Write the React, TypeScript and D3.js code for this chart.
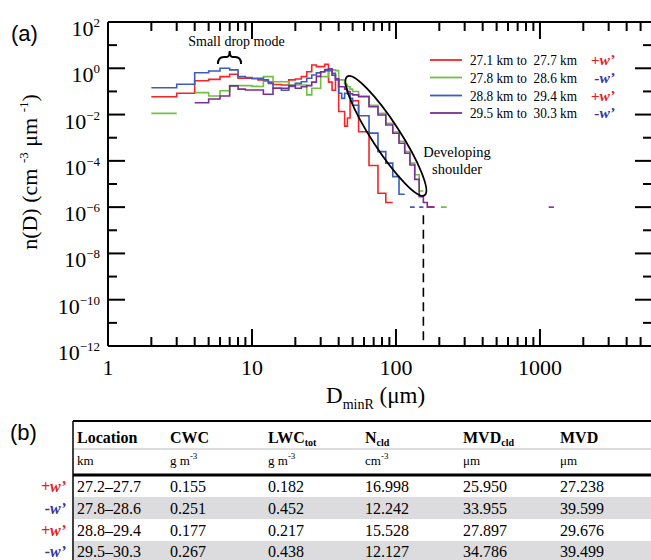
import React from 'react';
import * as d3 from 'd3';

// bin edges (um) of the merged CDP + 2DS size distribution
const binEdges = [2, 3, 4, 5, 6, 7, 8, 9, 10, 11, 12, 13, 14, 16, 18, 20, 22, 24, 26, 28, 30, 32, 34, 36, 38, 40, 42, 44, 46, 48, 50,
  55, 65, 75, 85, 95, 105, 115, 125, 135, 145, 155, 165, 175, 185, 195, 205, 215, 225];

// log10 n(D) per bin, null = no counts
const redLogN = [-1.23, -1.08, -0.54, -0.48, -0.36, -0.26, -0.43, -0.43, -0.45, -0.5, -0.55, -0.6,
  -0.7, -0.72, -0.5, -0.46, -0.36, -0.15, 0.14, 0.07, 0.07, 0.17, -0.6, -0.95, -0.45, -1.87, -1.87, -2.5, -2.15, -1.4,
  -1.4, -2.74, -4.2, -5.4, -5.8, null, null, null, null, null, null, null, -6, -6, null, null, null, null];
const greenLogN = [-1.95, null, -1.05, -1.2, -0.97, -0.75, -0.75, -0.75, -0.78, -0.79, -0.36, -0.36,
  -0.58, -0.58, -0.72, -0.72, -0.72, -1.15, -0.86, -0.86, -0.36, -0.36, -0.07, -0.07, -0.1, -0.5, -0.5, -0.7, -0.8, -0.9,
  -1.0, -1.2, -1.6, -1.95, -2.38, -2.75, -3.15, -3.6, -4.1, -4.6, -5.3, null, null, null, null, null, -6, -6];
const blueLogN = [-0.84, -0.69, -0.19, -0.12, 0.0, -0.07, -0.36, -0.4, -0.43, -0.43, -0.5, -0.65,
  -0.86, -0.95, -0.79, -0.65, -0.58, -0.43, -0.29, -0.2, -0.15, -0.1, -0.1, -0.22, -0.5, -1.08, -1.3, -1.08, -1.1, -1.3,
  -1.6, -2.05, -2.8, -3.6, -4.1, -4.68, -5.44, null, -6, null, -6, null, null, null, null, null, null, null];
const purpleLogN = [null, null, -1.49, -1.33, -1.2, -0.76, -0.9, -0.94, -0.94, -0.94, -1.12, -1.12,
  -0.86, -0.86, -0.75, -0.86, -0.8, -0.75, -0.6, -0.35, -0.15, -0.05, -0.02, -0.3, -0.45, -0.8, -0.8, -0.9, -1.0, -1.1,
  -1.15, -1.23, -1.66, -2.02, -2.45, -2.81, -3.24, -3.67, -4.18, -4.8, -5.55, -5.8, -6, -6, null, null, null, null];
const purpleTailBin = [1150, 1250];
const purpleTailLogN = -6;

const seriesLogN = [redLogN, greenLogN, blueLogN, purpleLogN];
const seriesColors = ['#f52525', '#72bf44', '#3c5cbf', '#7d2e91'];
const legendRanges = ['27.1 km to  27.7 km', '27.8 km to  28.6 km', '28.8 km to  29.4 km', '29.5 km to  30.3 km'];
const legendSigns = ['+w\u2019', '-w\u2019', '+w\u2019', '-w\u2019'];
const signColors = ['#e41e26', '#36379a', '#e41e26', '#36379a'];

const xTickLabels = [1, 10, 100, 1000];
const yTickExps = [2, 0, -2, -4, -6, -8, -10, -12];
const markerD = 155;

const tableLocation = ['27.2\u201327.7', '27.8\u201328.6', '28.8\u201329.4', '29.5\u201330.3'];
const tableCWC = ['0.155', '0.251', '0.177', '0.267'];
const tableLWC = ['0.182', '0.452', '0.217', '0.438'];
const tableNcld = ['16.998', '12.242', '15.528', '12.127'];
const tableMVDcld = ['25.950', '33.955', '27.897', '34.786'];
const tableMVD = ['27.238', '39.599', '29.676', '39.499'];

const serif = "'Liberation Serif', 'Times New Roman', serif";
const sans = "'Liberation Sans', Arial, sans-serif";

const App = () => {
  const W = 651;
  const H = 560;
  const pl = { left: 108, right: 652, top: 22, bottom: 346 };

  const x = d3.scaleLog().domain([1, 6000]).range([pl.left, pl.right]);
  const y = d3.scaleLog().domain([1e-12, 1e2]).range([pl.bottom, pl.top]);

  const line = d3
    .line<[number, number | null]>()
    .defined(d => d[1] !== null)
    .x(d => x(d[0]))
    .y(d => y(Math.pow(10, d[1] as number)));

  const stepPoints = (vals: (number | null)[]) => {
    const pts: [number, number | null][] = [];
    vals.forEach((v, i) => {
      pts.push([binEdges[i], v]);
      pts.push([binEdges[i + 1], v]);
    });
    return pts;
  };

  // minor / major ticks
  const xMajor = [1, 10, 100, 1000];
  const xMinor: number[] = [];
  for (let k = 0; k < 4; k++) for (let m = 2; m <= 9; m++) if (m * 10 ** k < 6000) xMinor.push(m * 10 ** k);
  const yMajor = yTickExps.map(e => 10 ** e);
  const yMinor = [1, -1, -3, -5, -7, -9, -11].map(e => 10 ** e);

  // ellipse around the developing shoulder, given by its ends in data space
  const e1 = [x(45.9), y(10 ** -0.354)];
  const e2 = [x(158), y(10 ** -5.49)];
  const ecx = (e1[0] + e2[0]) / 2;
  const ecy = (e1[1] + e2[1]) / 2;
  const erx = Math.hypot(e2[0] - e1[0], e2[1] - e1[1]) / 2;
  const eang = (Math.atan2(e2[1] - e1[1], e2[0] - e1[0]) * 180) / Math.PI;

  // brace over small drop mode
  const bl = x(5.8), bm = x(7), br = x(8.4);
  const bTop = 51, bMid = 57, bBot = 64;
  const brace = `M${bl},${bBot} Q${bl},${bMid} ${bl + 6},${bMid} L${bm - 3},${bMid} Q${bm},${bMid} ${bm},${bTop} Q${bm},${bMid} ${bm + 3},${bMid} L${br - 6},${bMid} Q${br},${bMid} ${br},${bBot}`;

  const legendRows = [60, 77.5, 95.5, 113];

  // table layout
  const colX = [77, 170, 268, 365, 463, 560];
  const rowBase = [492, 514, 536, 557];
  const rowTop = [476, 497, 519, 541];
  const tableCols = [tableLocation, tableCWC, tableLWC, tableNcld, tableMVDcld, tableMVD];

  return (
    <svg width={W} height={H} viewBox={`0 0 ${W} ${H}`} style={{ position: 'absolute', left: 0, top: 0, background: '#fff' }}>
      <rect x={0} y={0} width={W} height={H} fill='#fff' />

      {/* series */}
      {seriesLogN.map((vals, i) => (
        <path key={`s-${i}`} d={line(stepPoints(vals)) || ''} fill='none' stroke={seriesColors[i]} strokeWidth={1.6} />
      ))}
      <path
        d={line([[purpleTailBin[0], purpleTailLogN], [purpleTailBin[1], purpleTailLogN]]) || ''}
        fill='none'
        stroke={seriesColors[3]}
        strokeWidth={1.6}
      />

      {/* marker line */}
      <line x1={x(markerD)} x2={x(markerD)} y1={y(10 ** -6.35)} y2={pl.bottom} stroke='#000' strokeWidth={1.6} strokeDasharray='9 5.5' />

      {/* axes frame */}
      <g stroke='#000' strokeWidth={2} fill='none'>
        <line x1={pl.left} x2={pl.right} y1={pl.bottom} y2={pl.bottom} />
        <line x1={pl.left} x2={pl.right} y1={pl.top} y2={pl.top} />
        <line x1={pl.left} x2={pl.left} y1={pl.top} y2={pl.bottom} />
        <line x1={pl.right} x2={pl.right} y1={pl.top} y2={pl.bottom} />
        {xMajor.map(d => (
          <g key={`xM-${d}`}>
            <line x1={x(d)} x2={x(d)} y1={pl.bottom} y2={pl.bottom - 17} />
            <line x1={x(d)} x2={x(d)} y1={pl.top} y2={pl.top + 17} />
          </g>
        ))}
        {xMinor.map(d => (
          <g key={`xm-${d}`}>
            <line x1={x(d)} x2={x(d)} y1={pl.bottom} y2={pl.bottom - 9} />
            <line x1={x(d)} x2={x(d)} y1={pl.top} y2={pl.top + 9} />
          </g>
        ))}
        {yMajor.map(d => (
          <g key={`yM-${d}`}>
            <line x1={pl.left} x2={pl.left + 17} y1={y(d)} y2={y(d)} />
            <line x1={pl.right} x2={pl.right - 17} y1={y(d)} y2={y(d)} />
          </g>
        ))}
        {yMinor.map(d => (
          <g key={`ym-${d}`}>
            <line x1={pl.left} x2={pl.left + 9} y1={y(d)} y2={y(d)} />
            <line x1={pl.right} x2={pl.right - 9} y1={y(d)} y2={y(d)} />
          </g>
        ))}
      </g>

      {/* tick labels */}
      <g fontFamily={serif} fill='#000'>
        {xTickLabels.map(d => (
          <text key={`xl-${d}`} x={x(d)} y={375} fontSize={22} textAnchor='middle'>{d}</text>
        ))}
        {yTickExps.map(e => (
          <text key={`yl-${e}`} x={100} y={y(10 ** e) + 14} fontSize={22} textAnchor='end'>
            10<tspan dy={-9} fontSize={13}>{e < 0 ? `\u2212${-e}` : `${e}`}</tspan>
          </text>
        ))}
      </g>

      {/* axis titles */}
      <text x={326} y={403} fontFamily={serif} fontSize={23}>
        D<tspan fontSize={14} dy={6}>minR</tspan>
        <tspan dy={-6}> (&#956;m)</tspan>
      </text>
      <text transform={`translate(37,172) rotate(-90)`} fontFamily={serif} fontSize={22} textAnchor='middle'>
        n(D) (cm <tspan fontSize={13} dy={-9}>-3</tspan>
        <tspan dy={9}> &#956;m </tspan>
        <tspan fontSize={13} dy={-9}>-1</tspan>
        <tspan dy={9}>)</tspan>
      </text>

      <text x={11} y={41} fontFamily={sans} fontSize={22}>(a)</text>

      {/* annotations */}
      <path d={brace} fill='none' stroke='#000' strokeWidth={2} />
      <text x={x(7.8)} y={46} fontFamily={serif} fontSize={14} textAnchor='middle'>Small drop mode</text>
      <ellipse cx={ecx} cy={ecy} rx={erx} ry={14} transform={`rotate(${eang} ${ecx} ${ecy})`} fill='none' stroke='#000' strokeWidth={1.8} />
      <text x={457} y={157} fontFamily={serif} fontSize={14.5} textAnchor='middle'>Developing</text>
      <text x={457} y={174} fontFamily={serif} fontSize={14.5} textAnchor='middle'>shoulder</text>

      {/* legend */}
      {legendRanges.map((r, i) => (
        <g key={`lg-${i}`}>
          <line x1={430} x2={462} y1={legendRows[i]} y2={legendRows[i]} stroke={seriesColors[i]} strokeWidth={1.8} />
          <text x={470} y={legendRows[i] + 5} fontFamily={serif} fontSize={15} textLength={107} lengthAdjust='spacingAndGlyphs' style={{ whiteSpace: 'pre' }}>{r}</text>
          <text x={615} y={legendRows[i] + 5} fontFamily={serif} fontSize={15.5} fontWeight='bold' fontStyle='italic' textAnchor='end' fill={signColors[i]}>{legendSigns[i]}</text>
        </g>
      ))}

      {/* table (b) */}
      <text x={10} y={440} fontFamily={sans} fontSize={22}>(b)</text>
      {rowTop.map((t, i) => (i % 2 === 1 ? <rect key={`bg-${i}`} x={74} y={t} width={W - 74} height={22} fill='#dcdcde' /> : null))}
      <line x1={73} x2={W} y1={421} y2={421} stroke='#000' strokeWidth={2} />
      <line x1={73} x2={W} y1={449} y2={449} stroke='#bbb' strokeWidth={1} />
      <line x1={73} x2={W} y1={475} y2={475} stroke='#000' strokeWidth={3} />
      <line x1={73} x2={73} y1={421} y2={H} stroke='#000' strokeWidth={1.5} />

      <g fontFamily={serif} fontWeight='bold' fontSize={16}>
        <text x={colX[0]} y={443}>Location</text>
        <text x={colX[1]} y={443}>CWC</text>
        <text x={colX[2]} y={443}>LWC<tspan fontSize={10} dy={3}>tot</tspan></text>
        <text x={colX[3]} y={443}>N<tspan fontSize={10} dy={3}>cld</tspan></text>
        <text x={colX[4]} y={443}>MVD<tspan fontSize={10} dy={3}>cld</tspan></text>
        <text x={colX[5]} y={443}>MVD</text>
      </g>
      <g fontFamily={serif} fontSize={13}>
        <text x={colX[0]} y={465}>km</text>
        <text x={colX[1]} y={465}>g m<tspan fontSize={9} dy={-6}>-3</tspan></text>
        <text x={colX[2]} y={465}>g m<tspan fontSize={9} dy={-6}>-3</tspan></text>
        <text x={colX[3]} y={465}>cm<tspan fontSize={9} dy={-6}>-3</tspan></text>
        <text x={colX[4]} y={465}>&#956;m</text>
        <text x={colX[5]} y={465}>&#956;m</text>
      </g>
      <g fontFamily={serif} fontSize={16}>
        {tableCols.map((col, c) =>
          col.map((v, r) => (
            <text key={`t-${c}-${r}`} x={colX[c]} y={rowBase[r]}>{v}</text>
          ))
        )}
      </g>
      {legendSigns.map((s, r) => (
        <text key={`ts-${r}`} x={66} y={rowBase[r]} fontFamily={serif} fontSize={16} fontWeight='bold' fontStyle='italic' textAnchor='end' fill={signColors[r]}>{s}</text>
      ))}
    </svg>
  );
};

export default App;
